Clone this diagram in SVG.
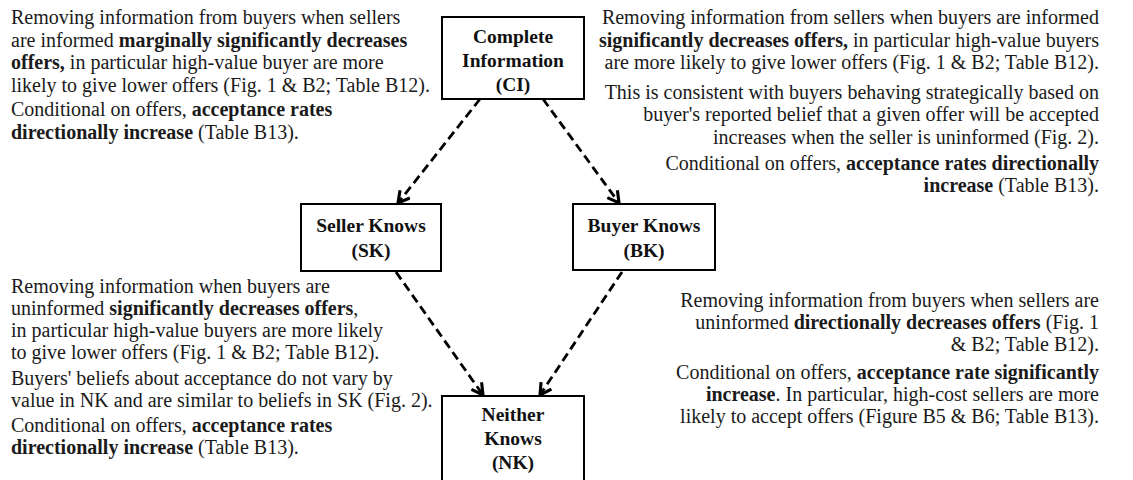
<svg xmlns="http://www.w3.org/2000/svg" width="1133" height="480" viewBox="0 0 1133 480">
<style>
.t{font-family:"Liberation Serif","Times New Roman",serif;font-size:20px;fill:#1a1a1a}
.b{font-weight:bold}
.r{text-anchor:end}
.box{fill:#fff;stroke:#000;stroke-width:2}
.nt{font-family:"Liberation Serif","Times New Roman",serif;font-size:19.5px;font-weight:bold;fill:#111;text-anchor:middle}
.c{fill:none;stroke:#000;stroke-width:2.8;stroke-dasharray:9 5}
</style>
<defs>
<marker id="ah" viewBox="0 0 12 12" refX="10.5" refY="6" markerWidth="15" markerHeight="15" markerUnits="userSpaceOnUse" orient="auto">
<path d="M1.5,1 L10.5,6 L1.5,11" fill="none" stroke="#000" stroke-width="2.5" stroke-linejoin="miter"/>
</marker>
</defs>
<g id="connectors">
<line class="c" x1="480" y1="99" x2="398" y2="203" marker-end="url(#ah)"/>
<line class="c" x1="543" y1="99" x2="619" y2="203" marker-end="url(#ah)"/>
<line class="c" x1="396" y1="272" x2="483" y2="395" marker-end="url(#ah)"/>
<line class="c" x1="622" y1="272" x2="540" y2="395" marker-end="url(#ah)"/>
</g>
<g id="CI">
<rect class="box" x="442" y="17" width="142" height="82"/>
<text class="nt" x="513" y="43">Complete</text>
<text class="nt" x="513" y="67">Information</text>
<text class="nt" x="513" y="91">(CI)</text>
</g>
<g id="SK">
<rect class="box" x="301" y="204" width="140" height="67"/>
<text class="nt" x="371" y="232">Seller Knows</text>
<text class="nt" x="371" y="257">(SK)</text>
</g>
<g id="BK">
<rect class="box" x="573" y="204" width="142" height="66"/>
<text class="nt" x="644" y="232">Buyer Knows</text>
<text class="nt" x="644" y="257">(BK)</text>
</g>
<g id="NK">
<rect class="box" x="442" y="396" width="142" height="90"/>
<text class="nt" x="513" y="421">Neither</text>
<text class="nt" x="513" y="445">Knows</text>
<text class="nt" x="513" y="469">(NK)</text>
</g>
<g id="text-CI-SK">
<text class="t" x="11" y="24">Removing information from buyers when sellers</text>
<text class="t" x="11" y="47">are informed <tspan class="b">marginally significantly decreases</tspan></text>
<text class="t" x="11" y="69"><tspan class="b">offers,</tspan> in particular high-value buyer are more</text>
<text class="t" x="11" y="92">likely to give lower offers (Fig. 1 &amp; B2; Table B12).</text>
<text class="t" x="11" y="116">Conditional on offers, <tspan class="b">acceptance rates</tspan></text>
<text class="t" x="11" y="139"><tspan class="b">directionally increase</tspan> (Table B13).</text>
</g>
<g id="text-CI-BK">
<text class="t r" x="1099" y="24">Removing information from sellers when buyers are informed</text>
<text class="t r" x="1099" y="47"><tspan class="b">significantly decreases offers,</tspan> in particular high-value buyers</text>
<text class="t r" x="1099" y="69">are more likely to give lower offers (Fig. 1 &amp; B2; Table B12).</text>
<text class="t r" x="1099" y="99">This is consistent with buyers behaving strategically based on</text>
<text class="t r" x="1099" y="121">buyer's reported belief  that a given offer will be accepted</text>
<text class="t r" x="1099" y="144">increases when the seller is uninformed (Fig. 2).</text>
<text class="t r" x="1099" y="170">Conditional on offers, <tspan class="b">acceptance rates directionally</tspan></text>
<text class="t r" x="1099" y="192"><tspan class="b">increase</tspan> (Table B13).</text>
</g>
<g id="text-SK-NK">
<text class="t" x="11" y="293">Removing information when buyers are</text>
<text class="t" x="11" y="315">uninformed <tspan class="b">significantly decreases offers</tspan>,</text>
<text class="t" x="11" y="337">in particular high-value buyers are more likely</text>
<text class="t" x="11" y="359">to give lower offers (Fig. 1 &amp; B2; Table B12).</text>
<text class="t" x="11" y="385">Buyers' beliefs about acceptance do not vary by</text>
<text class="t" x="11" y="407">value in NK and are similar to beliefs in SK (Fig. 2).</text>
<text class="t" x="11" y="432">Conditional on offers, <tspan class="b">acceptance rates</tspan></text>
<text class="t" x="11" y="454"><tspan class="b">directionally increase</tspan> (Table B13).</text>
</g>
<g id="text-BK-NK">
<text class="t r" x="1099" y="307">Removing information from buyers when sellers are</text>
<text class="t r" x="1099" y="329">uninformed <tspan class="b">directionally decreases offers</tspan> (Fig. 1</text>
<text class="t r" x="1099" y="351">&amp; B2; Table B12).</text>
<text class="t r" x="1099" y="379">Conditional on offers, <tspan class="b">acceptance rate significantly</tspan></text>
<text class="t r" x="1099" y="401"><tspan class="b">increase</tspan>. In particular, high-cost sellers are more</text>
<text class="t r" x="1099" y="423">likely to accept offers (Figure B5 &amp; B6; Table B13).</text>
</g>
</svg>
